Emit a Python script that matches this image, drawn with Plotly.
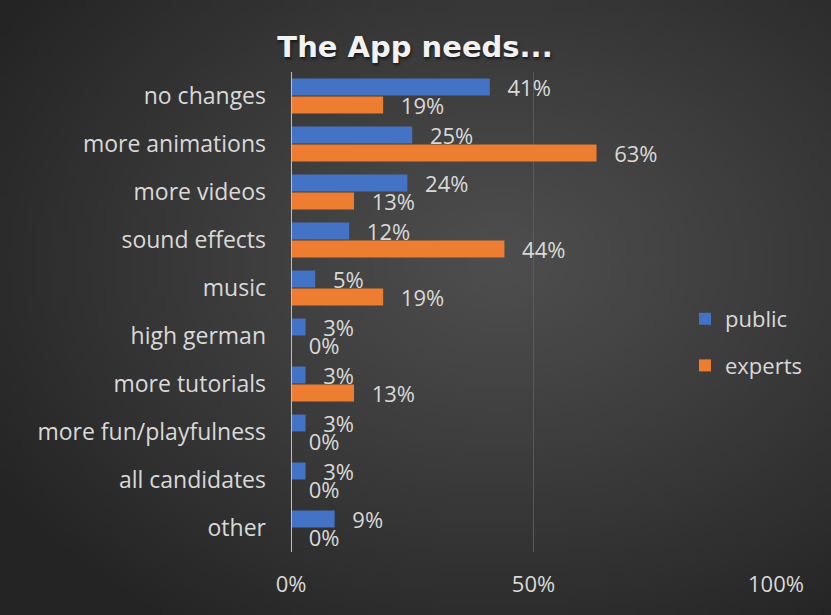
import base64, struct, zlib
import numpy as np
import plotly.graph_objects as go

categories = ["no changes", "more animations", "more videos", "sound effects", "music",
              "high german", "more tutorials", "more fun/playfulness", "all candidates", "other"]
public = [41, 25, 24, 12, 5, 3, 3, 3, 3, 9]
experts = [19, 63, 13, 44, 19, 0, 13, 0, 0, 0]
x_ticks = [0, 50, 100]
x_tick_labels = ["0%", "50%", "100%"]

W, H = 831, 615
ML, MR, MT, MB = 291, 55, 72, 63
PW, PH = W - ML - MR, H - MT - MB

# radial gradient background image
gw, gh = 166, 123
yy, xx = np.mgrid[0:gh, 0:gw]
cx, cy = gw * 0.6, gh * 0.42
d = np.sqrt(((xx - cx) / gw) ** 2 + ((yy - cy) / gh) ** 2) / 0.72
d = np.clip(d, 0, 1)
inner, outer = 78, 36
val = (inner + (outer - inner) * d ** 1.1).astype(np.uint8)
raw = b"".join(b"\x00" + bytes(np.stack([row, row, row], axis=1).flatten()) for row in val)
def chunk(t, data):
    c = struct.pack(">I", len(data)) + t + data
    return c + struct.pack(">I", zlib.crc32(t + data) & 0xffffffff)
png = b"\x89PNG\r\n\x1a\n" + chunk(b"IHDR", struct.pack(">IIBBBBB", gw, gh, 8, 2, 0, 0, 0)) \
      + chunk(b"IDAT", zlib.compress(raw)) + chunk(b"IEND", b"")
bg_uri = "data:image/png;base64," + base64.b64encode(png).decode()

FONT = "Open Sans"
TXT = "#d9d9d9"
FS = 22
pad = "\u2002\u2009"

fig = go.Figure()
fig.add_trace(go.Bar(
    y=categories, x=public, name="public", orientation="h",
    marker=dict(color="#4472C4", line=dict(width=0)),
    text=[f"{pad}{v}%" for v in public], textposition="outside",
    textfont=dict(family=FONT, size=FS, color=TXT), constraintext="none",
    cliponaxis=False, legendgroup="a", hoverinfo="skip"))
fig.add_trace(go.Bar(
    y=categories, x=experts, name="experts", orientation="h",
    marker=dict(color="#ED7D31", line=dict(width=0)),
    text=[f"{pad}{v}%" for v in experts], textposition="outside",
    textfont=dict(family=FONT, size=FS, color=TXT), constraintext="none",
    cliponaxis=False, legendgroup="b", hoverinfo="skip"))

fig.update_layout(
    width=W, height=H,
    margin=dict(l=ML, r=MR, t=MT, b=MB, autoexpand=False),
    paper_bgcolor="#333333", plot_bgcolor="rgba(0,0,0,0)",
    barmode="group", bargap=0.25, bargroupgap=0.06,
    images=[dict(source=bg_uri, xref="paper", yref="paper",
                 x=-ML / PW, y=1 + MT / PH, sizex=W / PW, sizey=H / PH,
                 xanchor="left", yanchor="top", sizing="stretch", layer="below")],
    title=dict(text="<b>The App needs...</b>", x=415 / W, xanchor="center",
               y=1 - 47 / H, yanchor="middle",
               font=dict(family="DejaVu Sans", size=29, color="#f2f2f2",
                         shadow="1px 2px 3px rgba(0,0,0,0.6)")),
    showlegend=True,
    legend=dict(x=(685 - ML) / PW, y=(H - MB - 318 + 20) / PH, xanchor="left", yanchor="top",
                font=dict(family=FONT, size=FS, color=TXT), bgcolor="rgba(0,0,0,0)",
                tracegroupgap=15, itemwidth=30, traceorder="grouped"),
    xaxis=dict(range=[0, 100], tickvals=x_ticks, ticktext=x_tick_labels,
               showgrid=True, gridcolor="#595959", gridwidth=1, zeroline=False,
               showline=False, tickfont=dict(family=FONT, size=FS, color=TXT),
               ticks="", ticklabelstandoff=17, fixedrange=True),
    yaxis=dict(autorange="reversed", showgrid=False, zeroline=False,
               showline=False, tickfont=dict(family=FONT, size=FS + 1, color=TXT),
               ticks="", ticklabelstandoff=24, fixedrange=True),
    shapes=[dict(type="line", xref="x", yref="paper", x0=0, x1=0, y0=0, y1=1,
                 line=dict(color="#bfbfbf", width=2), layer="above")],
)
fig.write_html("out.html")
